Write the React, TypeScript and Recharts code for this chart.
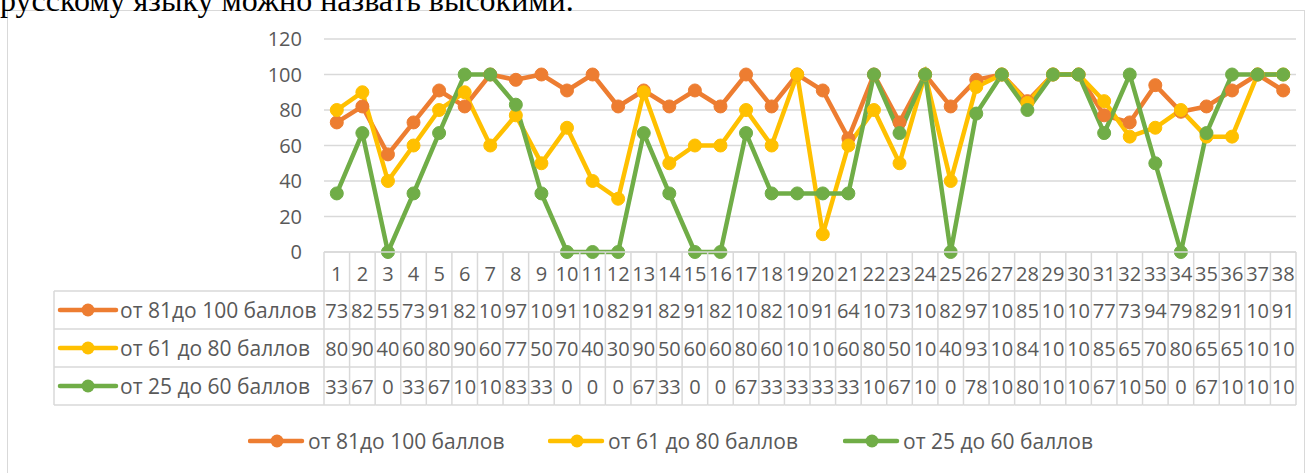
import React from "react";
import { LineChart, Line, XAxis, YAxis, CartesianGrid } from "recharts";

const categories = [
  "1", "2", "3", "4", "5", "6", "7", "8", "9", "10",
  "11", "12", "13", "14", "15", "16", "17", "18", "19", "20",
  "21", "22", "23", "24", "25", "26", "27", "28", "29", "30",
  "31", "32", "33", "34", "35", "36", "37", "38",
];
const high = [
  73, 82, 55, 73, 91, 82, 100, 97, 100, 91, 100, 82, 91, 82, 91, 82, 100, 82, 100,
  91, 64, 100, 73, 100, 82, 97, 100, 85, 100, 100, 77, 73, 94, 79, 82, 91, 100, 91,
];
const mid = [
  80, 90, 40, 60, 80, 90, 60, 77, 50, 70, 40, 30, 90, 50, 60, 60, 80, 60, 100,
  10, 60, 80, 50, 100, 40, 93, 100, 84, 100, 100, 85, 65, 70, 80, 65, 65, 100, 100,
];
const low = [
  33, 67, 0, 33, 67, 100, 100, 83, 33, 0, 0, 0, 67, 33, 0, 0, 67, 33, 33,
  33, 33, 100, 67, 100, 0, 78, 100, 80, 100, 100, 67, 100, 50, 0, 67, 100, 100, 100,
];
const seriesNames = ["от 81до 100 баллов", "от 61 до 80 баллов", "от 25 до 60 баллов"];
const seriesKeys = ["high", "mid", "low"];
const seriesColors = ["#ED7D31", "#FFC000", "#70AD47"];
const yTicks = [0, 20, 40, 60, 80, 100, 120];

const data = categories.map((c, i) => ({ cat: c, high: high[i], mid: mid[i], low: low[i] }));
const seriesValues = [high, mid, low];

const FONT = "'Open Sans', sans-serif";
const TEXT = "#595959";
const GRID = "#d9d9d9";
const PLOT_LEFT = 324;
const PLOT_RIGHT = 1296;
const BAND = (PLOT_RIGHT - PLOT_LEFT) / categories.length;
// table line offsets below the axis: category row, then one row per series
const ROW_LINES = [0, 39, 77, 115, 153];
const HEADER_LEFT = 54;

// the data table cells are too narrow for three digits, so Excel shows only the first two
const cellText = (v: number) => String(v).slice(0, 2);

function TableTick(props: any) {
  const { x, y, index, payload } = props;
  const left = x - BAND / 2;
  const right = x + BAND / 2;
  const bottom = y + ROW_LINES[4];
  const out: React.ReactNode[] = [];

  out.push(<line key="l" x1={left} x2={left} y1={y} y2={bottom} stroke={GRID} strokeWidth={1.5} />);
  if (index === categories.length - 1) {
    out.push(<line key="r" x1={right} x2={right} y1={y} y2={bottom} stroke={GRID} strokeWidth={1.5} />);
  }
  ROW_LINES.forEach((off, k) => {
    out.push(<line key={"h" + k} x1={left} x2={right} y1={y + off} y2={y + off} stroke={GRID} strokeWidth={1.5} />);
  });
  out.push(
    <text key="c" x={x} y={y + 21} textAnchor="middle" dominantBaseline="central" fill={TEXT} fontSize={20}>
      {payload.value}
    </text>
  );
  seriesValues.forEach((vals, s) => {
    const cy = (y + ROW_LINES[s + 1] + y + ROW_LINES[s + 2]) / 2;
    out.push(
      <text key={"v" + s} x={x} y={cy} textAnchor="middle" dominantBaseline="central" fill={TEXT} fontSize={20}>
        {cellText(vals[index])}
      </text>
    );
  });

  if (index === 0) {
    out.push(<line key="hl" x1={HEADER_LEFT} x2={HEADER_LEFT} y1={y + ROW_LINES[1]} y2={bottom} stroke={GRID} strokeWidth={1.5} />);
    ROW_LINES.slice(1).forEach((off, k) => {
      out.push(
        <line key={"hh" + k} x1={HEADER_LEFT} x2={left} y1={y + off} y2={y + off} stroke={GRID} strokeWidth={1.5} />
      );
    });
    seriesNames.forEach((name, s) => {
      const cy = (y + ROW_LINES[s + 1] + y + ROW_LINES[s + 2]) / 2;
      out.push(
        <g key={"key" + s}>
          <line x1={60} x2={116} y1={cy} y2={cy} stroke={seriesColors[s]} strokeWidth={4.5} strokeLinecap="round" />
          <circle cx={88} cy={cy} r={6.5} fill={seriesColors[s]} />
          <text x={120} y={cy} dominantBaseline="central" fill={TEXT} fontSize={21}>
            {name}
          </text>
        </g>
      );
    });
  }
  return <g>{out}</g>;
}

const legendPos = [248, 548, 843];

export default function App() {
  return (
    <div style={{ position: "absolute", left: 0, top: 0, width: 1311, height: 473, overflow: "hidden", background: "#fff" }}>
      <div
        style={{
          position: "absolute",
          left: 7,
          top: 10,
          width: 1298,
          height: 480,
          border: "1.5px solid " + GRID,
          boxSizing: "border-box",
        }}
      />
      <div
        style={{
          position: "absolute",
          left: 0,
          top: -16,
          fontFamily: "'Liberation Serif', 'Times New Roman', serif",
          fontSize: 32,
          lineHeight: "32px",
          color: "#000",
          whiteSpace: "nowrap",
        }}
      >
        русскому языку можно назвать высокими.
      </div>
      <div style={{ position: "absolute", left: 0, top: 0 }}>
        <LineChart
          width={1311}
          height={473}
          data={data}
          margin={{ top: 39, right: 1311 - PLOT_RIGHT, bottom: 68, left: 264 }}
          style={{ fontFamily: FONT }}
        >
          <CartesianGrid horizontal vertical={false} stroke={GRID} strokeWidth={1.5} />
          <XAxis
            dataKey="cat"
            scale="band"
            interval={0}
            height={153}
            axisLine={false}
            tickLine={false}
            tickSize={0}
            tickMargin={0}
            tick={<TableTick />}
          />
          <YAxis
            domain={[0, 120]}
            ticks={yTicks}
            width={60}
            axisLine={false}
            tickLine={false}
            tickSize={0}
            tickMargin={22}
            tick={{ fill: TEXT, fontSize: 20 }}
          />
          {seriesKeys.map((k, s) => (
            <Line
              key={k}
              dataKey={k}
              name={seriesNames[s]}
              type="linear"
              stroke={seriesColors[s]}
              strokeWidth={4.5}
              dot={{ r: 6.5, fill: seriesColors[s], stroke: seriesColors[s], strokeWidth: 1 }}
              activeDot={false}
              isAnimationActive={false}
            />
          ))}
        </LineChart>
      </div>
      {seriesNames.map((name, s) => (
        <div
          key={name}
          style={{
            position: "absolute",
            left: legendPos[s],
            top: 441 - 15,
            height: 30,
            display: "flex",
            alignItems: "center",
            fontFamily: FONT,
            fontSize: 21,
            color: TEXT,
            whiteSpace: "nowrap",
          }}
        >
          <svg width={60} height={30}>
            <line x1={2} x2={54} y1={15} y2={15} stroke={seriesColors[s]} strokeWidth={4.5} strokeLinecap="round" />
            <circle cx={29} cy={15} r={6.5} fill={seriesColors[s]} />
          </svg>
          <span>{name}</span>
        </div>
      ))}
    </div>
  );
}
